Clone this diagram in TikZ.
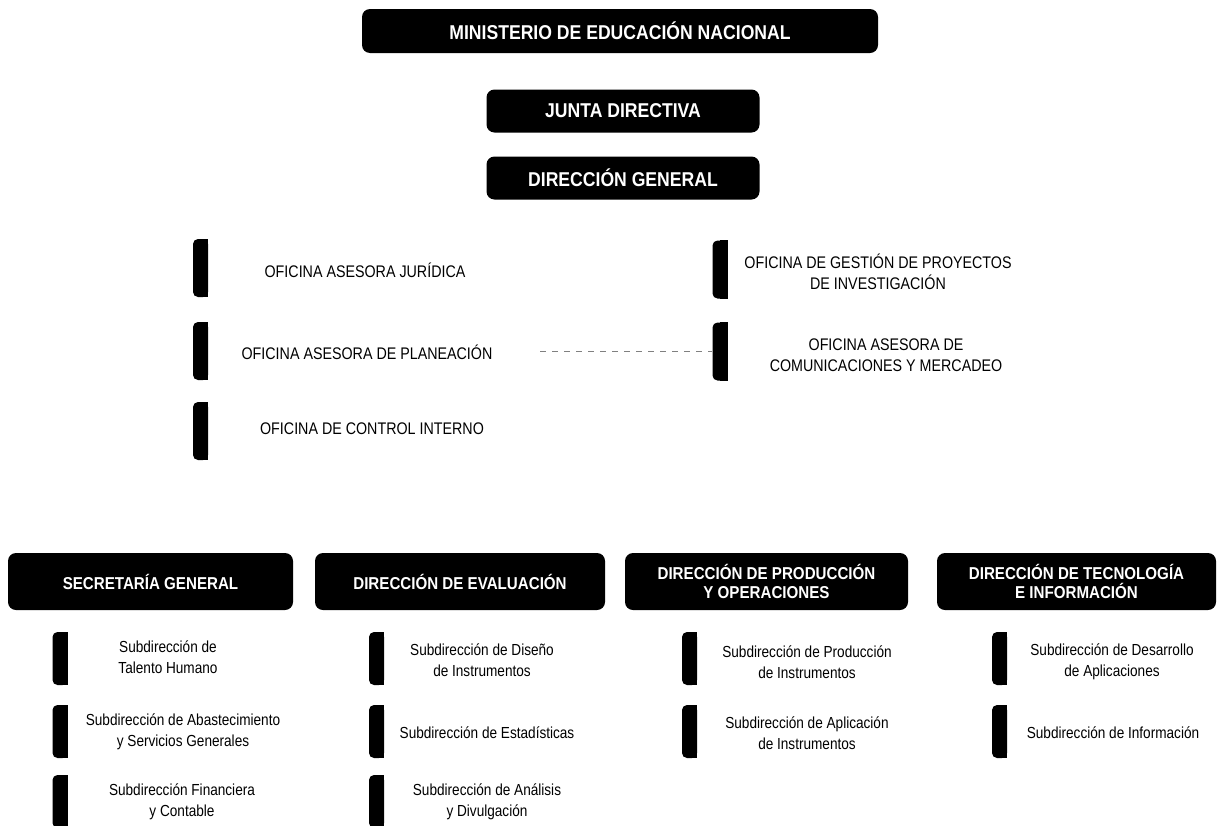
\documentclass[tikz,border=0pt]{standalone}
\usepackage{fontspec}
\setmainfont{Liberation Sans}
\newfontfamily\headfont[FakeStretch=0.88]{Liberation Sans}
\newfontfamily\officefont[FakeStretch=0.85]{Liberation Sans}
\newfontfamily\subfont[FakeStretch=0.85]{Liberation Sans}

\tikzset{
  topbox/.style={fill=black, text=white, rounded corners=4pt, inner sep=0pt,
    align=center, font=\headfont\bfseries\fontsize{10}{10.5}\selectfont},
  dirbox/.style={topbox, minimum height=28.5pt, font=\headfont\bfseries\fontsize{8.6}{9.2}\selectfont},
  officebar/.style={fill=black, rounded corners=2.5pt, inner sep=0pt,
    minimum width=7.5pt, minimum height=29pt},
  subbar/.style={officebar, minimum height=26.5pt},
  officetxt/.style={align=center, font=\officefont\fontsize{8.4}{10.5}\selectfont},
  subtxt/.style={align=center, font=\subfont\fontsize{8}{10.3}\selectfont},
  dotline/.style={gray, thin, dash pattern=on 3pt off 3pt}
}

\begin{document}
\begin{tikzpicture}[x=0.5pt,y=-0.5pt]
\useasboundingbox (0,0) rectangle (1218,825);

% top levels
\node[topbox, minimum width=258pt, minimum height=22pt] (men) at (620,31) {MINISTERIO DE EDUCACIÓN NACIONAL};
\node[topbox, minimum width=136.5pt, minimum height=21.5pt] (jd) at (623,111) {JUNTA DIRECTIVA};
\node[topbox, minimum width=136.5pt, minimum height=21.5pt] (dg) at (623,178) {DIRECCIÓN GENERAL};

% advisory offices
\node[officebar] (barjur) at (200.5,268) {};
\node[officebar] (barplan) at (200.5,351) {};
\node[officebar] (barci) at (200.5,431) {};
\node[officebar] (barproy) at (720,269.5) {};
\node[officebar] (barcom) at (720,351.5) {};
\node[officetxt] (jur) at (365,270) {OFICINA ASESORA JURÍDICA};
\node[officetxt] (plan) at (367,352) {OFICINA ASESORA DE PLANEACIÓN};
\node[officetxt] (ci) at (372,429) {OFICINA DE CONTROL INTERNO};
\node[officetxt] (proy) at (878,272) {OFICINA DE GESTIÓN DE PROYECTOS\\DE INVESTIGACIÓN};
\node[officetxt] (com) at (886,355) {OFICINA ASESORA DE\\COMUNICACIONES Y MERCADEO};
\coordinate (dotend) at (540,351.5);
\path[draw,dotline] (dotend) -- (barcom.west);

% directions
\node[dirbox, minimum width=142.5pt] (sg) at (150.5,581.5) {SECRETARÍA GENERAL};
\node[dirbox, minimum width=145pt] (de) at (460,581.5) {DIRECCIÓN DE EVALUACIÓN};
\node[dirbox, minimum width=141.5pt] (dpo) at (766.5,581.5) {DIRECCIÓN DE PRODUCCIÓN\\Y OPERACIONES};
\node[dirbox, minimum width=139.5pt] (dti) at (1076.5,581.5) {DIRECCIÓN DE TECNOLOGÍA\\E INFORMACIÓN};

% subdirections
\node[subbar] (bth) at (60,658.5) {};
\node[subbar] (basg) at (60,731.5) {};
\node[subbar] (bfc) at (60,801.5) {};
\node[subbar] (bdi) at (376.5,658.5) {};
\node[subbar] (best) at (376.5,731.5) {};
\node[subbar] (bad) at (376.5,801.5) {};
\node[subbar] (bpi) at (689.5,658.5) {};
\node[subbar] (bai) at (689.5,731.5) {};
\node[subbar] (bda) at (999.5,658.5) {};
\node[subbar] (binf) at (999.5,731.5) {};
\foreach \b in {barjur,barplan,barci,barproy,barcom,bth,basg,bfc,bdi,best,bad,bpi,bai,bda,binf}
  \fill (\b.north) rectangle (\b.south east);

\node[subtxt] (th) at (168,657) {Subdirección de\\Talento Humano};
\node[subtxt] (asg) at (183,732) {Subdirección de Abastecimiento\\y Servicios Generales};
\node[subtxt] (fc) at (182,802) {Subdirección Financiera\\y Contable};
\node[subtxt] (di) at (482,660) {Subdirección de Diseño\\de Instrumentos};
\node[subtxt] (est) at (487,733) {Subdirección de Estadísticas};
\node[subtxt] (ad) at (487,802) {Subdirección de Análisis\\y Divulgación};
\node[subtxt] (pi) at (807,662) {Subdirección de Producción\\de Instrumentos};
\node[subtxt] (ai) at (807,733) {Subdirección de Aplicación\\de Instrumentos};
\node[subtxt] (da) at (1112,662) {Subdirección de Desarrollo\\de Aplicaciones};
\node[subtxt] (inf) at (1113,733) {Subdirección de Información};
\end{tikzpicture}
\end{document}
